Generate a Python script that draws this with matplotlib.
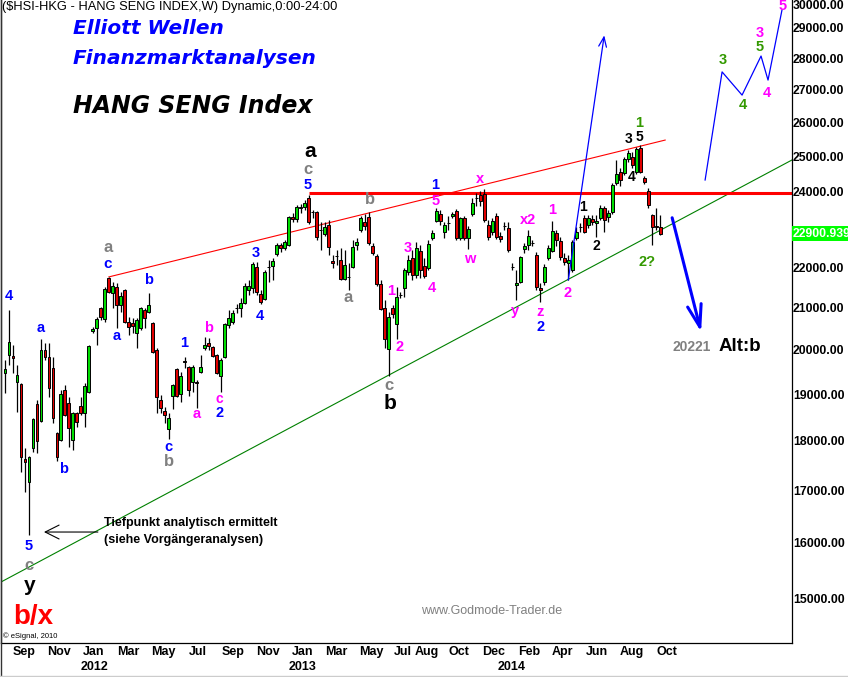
import numpy as np
import pandas as pd
import matplotlib
matplotlib.use("Agg")
import matplotlib.pyplot as plt
import matplotlib.dates as mdates
import matplotlib.ticker as mticker
import matplotlib.transforms as mtransforms
from matplotlib.lines import Line2D

# ---------------------------------------------------------------------------
# Weekly Hang Seng Index candles (one bar per week, Friday dates)
# ---------------------------------------------------------------------------
first_week = "2011-07-29"

opens = [
    19500, 19910, 19880, 19300, 19260, 17650, 17200, 17880, 18820, 18450,
    20030, 19870, 19610, 18200, 18050, 19120, 18840, 18050, 18620, 18770,
    18620, 19080, 20470, 20540, 21020, 20760, 21760, 21390, 21540, 21100,
    21460, 20680, 20660, 20420, 20540, 20970, 20920, 20660, 20030, 18900,
    18660, 18280, 18990, 19590, 19030, 19770, 19640, 19300, 19290, 19520,
    20070, 20190, 20100, 19910, 19430, 19860, 20610, 20690, 21010, 21020,
    21140, 21460, 21510, 22040, 21360, 21240, 22030, 22070, 22380, 22610,
    22530, 22610, 23350, 23300, 23590, 23620, 23870, 23480, 23490, 23000,
    22900, 23140, 22200, 22320, 22220, 21740, 21780, 22040, 22610, 23000,
    23220, 23350, 22580, 22320, 21610, 21020, 20050, 21020, 20640, 21330,
    21510, 21910, 22270, 21840, 22450, 22070, 22020, 22790, 23240, 23430,
    22950, 23180, 23380, 23510, 22790, 23320, 22790, 23430, 23860, 23950,
    23980, 23140, 22950, 23380, 22840, 23100, 23060, 22030, 21590, 21660,
    22510, 22610, 22650, 22350, 21510, 21660, 22270, 22450, 22920, 22710,
    22270, 22140, 21960, 22790, 23070, 23320, 23140, 23300, 23190, 23320,
    23600, 23350, 23490, 24290, 24600, 24570, 24970, 25030, 24600, 25290,
    24430, 24060, 23410, 23110, 23080,
]
highs = [
    19800, 20970, 20140, 19680, 19280, 17880, 17720, 18510, 18900, 20280,
    20190, 20190, 19870, 18220, 19120, 19230, 18970, 18640, 18640, 18970,
    19280, 20140, 20570, 20800, 21050, 21540, 21790, 21660, 21640, 21410,
    21480, 20800, 20780, 20780, 21050, 21020, 21390, 20680, 20070, 19010,
    18750, 18620, 19260, 19610, 19520, 19870, 19660, 19680, 19340, 19910,
    20330, 20310, 20110, 19930, 19840, 20660, 20970, 20970, 21120, 21270,
    21640, 21710, 22170, 22170, 21460, 21970, 22220, 22270, 22660, 22660,
    22740, 23380, 23460, 23680, 23710, 23810, 23944, 23540, 23510, 23220,
    23220, 23270, 22350, 22480, 22530, 22480, 22150, 22740, 22790, 23380,
    23430, 23490, 22660, 22380, 21710, 21220, 20920, 21100, 21540, 21410,
    22020, 22350, 22480, 22690, 22610, 22270, 22740, 23000, 23600, 23540,
    23220, 23380, 23490, 23570, 23350, 23380, 23110, 23870, 24010, 24060,
    24110, 23270, 23320, 23460, 22950, 23220, 23220, 22150, 21960, 22330,
    22660, 23000, 22740, 22430, 21640, 22120, 22610, 23240, 23000, 22820,
    22400, 22350, 22740, 23080, 23190, 23410, 23410, 23410, 23410, 23680,
    23650, 23540, 24290, 24940, 24710, 25030, 25230, 25170, 25320, 25362,
    24480, 24150, 23420, 23600, 23410,
]
lows = [
    19060, 19680, 19500, 18640, 17400, 17000, 16170, 17800, 17780, 18430,
    19790, 18970, 18410, 17620, 18030, 18560, 17900, 17840, 18320, 18580,
    18320, 19060, 20420, 20140, 20730, 20680, 21400, 21020, 20540, 20920,
    20660, 20380, 20420, 20070, 20490, 20540, 20900, 19960, 18620, 18620,
    18410, 18070, 18710, 18970, 18860, 19610, 18990, 19080, 18730, 19500,
    20030, 20030, 19870, 19480, 19080, 19840, 20540, 20640, 20900, 20800,
    21120, 21340, 21390, 21340, 21120, 21210, 21660, 21710, 22320, 22430,
    22480, 22580, 23220, 23220, 23460, 23540, 23160, 23320, 22740, 22480,
    22840, 22350, 22020, 22090, 21710, 21710, 21460, 22020, 22480, 22950,
    23000, 22610, 22350, 21560, 20970, 20070, 19426, 20780, 20280, 21270,
    21290, 21840, 21710, 21760, 21760, 21760, 21960, 22740, 23220, 23140,
    22790, 23000, 23320, 22740, 22740, 22740, 22510, 23380, 23650, 23650,
    23220, 22740, 22870, 22770, 22690, 23000, 22430, 21960, 21220, 21640,
    22400, 22480, 22580, 21460, 21170, 21590, 22220, 22430, 22580, 22220,
    22090, 21710, 21910, 22740, 22950, 22920, 23060, 23140, 22820, 23270,
    22950, 23220, 23430, 24230, 24200, 24510, 24880, 24710, 24540, 24570,
    24260, 23600, 22610, 23000, 22870,
]
closes = [
    19590, 20210, 19850, 19460, 17700, 17600, 17700, 18490, 18030, 20030,
    19870, 19170, 18510, 17700, 19030, 18580, 18300, 18620, 18430, 18620,
    19210, 20120, 20520, 20760, 20800, 21490, 21410, 21560, 21100, 21320,
    20680, 20570, 20590, 20730, 21020, 20780, 21100, 19980, 18970, 18730,
    18580, 18510, 19230, 18990, 19430, 19750, 19120, 19640, 19270, 19640,
    20140, 20120, 19890, 19500, 19800, 20640, 20780, 20900, 21030, 21140,
    21560, 21560, 22120, 21410, 21170, 21910, 22050, 22200, 22610, 22530,
    22690, 23350, 23300, 23620, 23610, 23730, 23220, 23490, 22820, 23010,
    23080, 22560, 22150, 22330, 21740, 22090, 21800, 22560, 22690, 23320,
    23110, 22660, 22400, 21610, 21000, 20280, 20800, 20880, 21290, 21350,
    21960, 22220, 21840, 22530, 21960, 21810, 22640, 22920, 23510, 23240,
    23140, 23200, 23430, 22790, 23320, 22790, 23030, 23730, 23880, 23790,
    23270, 22820, 23240, 22820, 22770, 23120, 22480, 22050, 21640, 22300,
    22580, 22850, 22670, 21540, 21460, 22040, 22530, 22980, 22740, 22300,
    22170, 22220, 22690, 22950, 23090, 22950, 23320, 23220, 23240, 23600,
    23270, 23460, 24230, 24540, 24370, 24970, 25140, 24800, 25260, 24600,
    24310, 23680, 23080, 23080, 22900.939,
]
last_price = 22900.939

# Axis text
price_levels = [30000, 29000, 28000, 27000, 26000, 25000, 24000, 22000,
                21000, 20000, 19000, 18000, 17000, 16000, 15000]
month_ticks = ["2011-09-01", "2011-11-01", "2012-01-01", "2012-03-01",
               "2012-05-01", "2012-07-01", "2012-09-01", "2012-11-01",
               "2013-01-01", "2013-03-01", "2013-05-01", "2013-07-01",
               "2013-08-01", "2013-10-01", "2013-12-01", "2014-02-01",
               "2014-04-01", "2014-06-01", "2014-08-01", "2014-10-01"]
month_names = ["Sep", "Nov", "Jan", "Mar", "May", "Jul", "Sep", "Nov",
               "Jan", "Mar", "May", "Jul", "Aug", "Oct", "Dec", "Feb",
               "Apr", "Jun", "Aug", "Oct"]
year_ticks = ["2012-01-01", "2013-01-01", "2014-01-01"]
year_names = ["2012", "2013", "2014"]

# Trend lines (week number, price)
support_weeks = [0, 198]
support_prices = [15320, 24940]
resistance_end = (166.25, 25520)
neckline_price = 24000

# Projected paths
up_target = (151, 28800)
down_path_weeks = [168, 175.25]
down_path_prices = [23330, 20450]
zigzag_weeks = [176.25, 180.5, 185.5, 190.25, 192, 195.5]
zigzag_prices = [24370, 27610, 26880, 28120, 27350, 29660]
target_price = 20221

BLUE, PINK, GRAY, GREEN, BLACK, RED = ("#0000ff", "#ff00ff", "#808080",
                                       "#339900", "#000000", "#ff0000")

# Elliott wave counts: (week, price, text, colour, size)
wave_labels = [
    (2, 21315, "4", BLUE, 10.5),
    (10, 20540, "a", BLUE, 10.5),
    (15.75, 17455, "b", BLUE, 10.5),
    (7, 15970, "5", BLUE, 10.5),
    (7, 15623, "c", GRAY, 12),
    (7.25, 15250, "y", BLACK, 15),
    (8, 14713, "b/x", RED, 20),
    (26.75, 22532, "a", GRAY, 12),
    (26.75, 22119, "c", BLUE, 11),
    (37, 21712, "b", BLUE, 10.5),
    (29, 20353, "a", BLUE, 10.5),
    (42, 17904, "c", BLUE, 10.5),
    (42, 17597, "b", GRAY, 12),
    (45.75, 20189, "1", BLUE, 10.5),
    (52, 20541, "b", PINK, 10.5),
    (49, 18600, "a", PINK, 10.5),
    (54.75, 18930, "c", PINK, 10),
    (54.75, 18620, "2", BLUE, 10.5),
    (63.75, 22403, "3", BLUE, 10.5),
    (64.75, 20828, "4", BLUE, 10.5),
    (76.75, 24230, "5", BLUE, 10.5),
    (76.75, 24680, "c", GRAY, 12),
    (77.5, 25199, "a", BLACK, 15),
    (92.25, 23841, "b", GRAY, 12),
    (87, 21266, "a", GRAY, 12),
    (97.75, 21438, "1", PINK, 10.5),
    (99.75, 20096, "2", PINK, 10.5),
    (97, 19211, "c", GRAY, 12),
    (97.5, 18816, "b", BLACK, 15),
    (101.75, 22532, "3", PINK, 10.5),
    (107.75, 21513, "4", PINK, 10.5),
    (108.75, 24230, "1", BLUE, 10.5),
    (108.75, 23787, "5", PINK, 10.5),
    (120, 24398, "x", PINK, 10.5),
    (117.25, 22248, "w", PINK, 10.5),
    (132, 23271, "x2", PINK, 10.5),
    (138, 23541, "1", PINK, 10.5),
    (128.75, 20949, "y", PINK, 10.5),
    (135, 20925, "z", PINK, 10.5),
    (135, 20565, "2", BLUE, 10.5),
    (141.75, 21389, "2", PINK, 10.5),
    (145.75, 23623, "1", BLACK, 10),
    (149, 22584, "2", BLACK, 10),
    (157, 25551, "3", BLACK, 10),
    (159.75, 25610, "5", BLACK, 10),
    (157.75, 24455, "4", BLACK, 10),
    (159.75, 26028, "1", GREEN, 10.5),
    (161.75, 22170, "2?", GREEN, 10.5),
    (180.75, 27992, "3", GREEN, 10.5),
    (185.75, 26575, "4", GREEN, 10.5),
    (190, 28878, "3", PINK, 10.5),
    (190, 28415, "5", GREEN, 10.5),
    (191.75, 26946, "4", PINK, 10.5),
    (195.75, 29793, "5", PINK, 10.5),
]

# ---------------------------------------------------------------------------
W, H = 848, 677
fig = plt.figure(figsize=(W / 100, H / 100), dpi=100, facecolor="white")
ax = fig.add_axes([1 / W, 34 / H, 791 / W, 643 / H])
ax.set_facecolor("white")

t0 = mdates.date2num(pd.Timestamp(first_week))


def wx(k):
    """Date number of (fractional) week k, week 1 being the first bar."""
    return t0 + 7.0 * (k - 1)


dates = pd.date_range(first_week, periods=len(closes), freq="7D")
x = mdates.date2num(dates)
o, h, l, c = (np.asarray(v, dtype=float) for v in (opens, highs, lows, closes))

ax.set_yscale("log")
ax.set_xlim(wx(0), wx(198))
ax.set_ylim(14278, 30000)
ax.xaxis.set_major_locator(mticker.NullLocator())
ax.xaxis.set_minor_locator(mticker.NullLocator())
ax.yaxis.set_major_locator(mticker.NullLocator())
ax.yaxis.set_minor_locator(mticker.NullLocator())
ax.spines["top"].set_visible(False)
for side in ("left", "bottom", "right"):
    ax.spines[side].set_color("black")
    ax.spines[side].set_linewidth(0.9)

# candles
lo = np.minimum(o, c)
hi = np.maximum(o, c)
rising = c >= o
ax.vlines(x, l, h, colors="black", linewidth=0.9, zorder=3)
ax.bar(x[rising], hi[rising] - lo[rising], bottom=lo[rising], width=5.0,
       color="#00dd00", edgecolor="black", linewidth=0.7, zorder=4)
ax.bar(x[~rising], hi[~rising] - lo[~rising], bottom=lo[~rising], width=5.0,
       color="#e00000", edgecolor="black", linewidth=0.7, zorder=4)

# trend lines
ax.plot([wx(k) for k in support_weeks], support_prices, color="#008000",
        lw=0.8, zorder=2)
ax.plot([x[26], wx(resistance_end[0])], [h[26], resistance_end[1]],
        color=RED, lw=0.8, zorder=2)
ax.plot([x[76], wx(198)], [neckline_price, neckline_price], color=RED,
        lw=2.2, zorder=2, solid_capstyle="butt")

# projections
ax.annotate("", xy=(wx(up_target[0]), up_target[1]), xytext=(x[141], l[141]),
            arrowprops=dict(arrowstyle="->,head_length=0.5,head_width=0.2",
                            color=BLUE, lw=0.9, shrinkA=0, shrinkB=0,
                            mutation_scale=14), zorder=5)
ax.annotate("", xy=(wx(down_path_weeks[1]), down_path_prices[1]),
            xytext=(wx(down_path_weeks[0]), down_path_prices[0]),
            arrowprops=dict(arrowstyle="->,head_length=0.8,head_width=0.25",
                            color=BLUE, lw=2.2, shrinkA=0, shrinkB=0,
                            mutation_scale=20), zorder=5)
ax.plot([wx(k) for k in zigzag_weeks], zigzag_prices, color=BLUE, lw=0.9,
        zorder=5)

# wave counts
for k, p, s, col, size in wave_labels:
    ax.text(wx(k), p, s, color=col, fontsize=size, fontweight="bold",
            family="Liberation Sans", ha="center", va="center", zorder=6)

ax.text(wx(173), 20096, f"{target_price}", color=GRAY, fontsize=10,
        fontweight="bold", family="Liberation Sans", ha="center", va="center")
ax.text(wx(185), 20096, "Alt:b", color=BLACK, fontsize=13.5,
        fontweight="bold", family="Liberation Sans", ha="center", va="center")

# note about the 2011 low
ax.annotate("", xy=(wx(10.75), 16230), xytext=(wx(24.25), 16230),
            arrowprops=dict(arrowstyle="->,head_length=0.5,head_width=0.25",
                            color="black", lw=0.8, shrinkA=0, shrinkB=0,
                            mutation_scale=20))
fig.text(104 / W, 1 - 523 / H, "Tiefpunkt analytisch ermittelt",
         fontsize=9, fontweight="bold", family="Liberation Sans", va="center")
fig.text(104 / W, 1 - 540 / H, "(siehe Vorgängeranalysen)",
         fontsize=9, fontweight="bold", family="Liberation Sans", va="center")

# headings
fig.text(2 / W, 1 - 7 / H, "($HSI-HKG - HANG SENG INDEX,W) Dynamic,0:00-24:00",
         fontsize=9.3, family="Liberation Sans", va="center")
title_font = dict(family="DejaVu Sans", fontweight="bold", style="italic",
                  va="center")
fig.text(73 / W, 1 - 28 / H, "Elliott Wellen", color=BLUE, fontsize=14.5,
         **title_font)
fig.text(73 / W, 1 - 59 / H, "Finanzmarktanalysen", color=BLUE,
         fontsize=14.5, **title_font)
fig.text(73 / W, 1 - 106 / H, "HANG SENG Index", color=BLACK, fontsize=17,
         **title_font)
fig.text(492 / W, 1 - 611 / H, "www.Godmode-Trader.de", color="#808080",
         fontsize=9, family="Liberation Sans", ha="center", va="center")
fig.text(3 / W, 1 - 636 / H, "\u00a9 eSignal, 2010", color="black",
         fontsize=5.5, family="Liberation Sans", va="center")

# price scale
ytrans = mtransforms.blended_transform_factory(fig.transFigure, ax.transData)
for p in price_levels:
    ax.text(793 / W, p, f"{p:.2f}", transform=ytrans, fontsize=8.8,
            fontweight="bold", family="Liberation Sans", ha="left",
            va="top" if p == price_levels[0] else "center", clip_on=False)
ax.text(793 / W, last_price, f"{last_price:.3f}", transform=ytrans,
        fontsize=8.8, fontweight="bold", family="Liberation Sans",
        color="white", ha="left", va="center", clip_on=False,
        bbox=dict(boxstyle="square,pad=0.12", fc="#00ff00", ec="none"))

# time scale (month names that would collide are nudged apart)
xtrans = mtransforms.blended_transform_factory(ax.transData, fig.transFigure)
nudge = {11: -3.5, 12: 2.5}
for i, (d, name) in enumerate(zip(month_ticks, month_names)):
    ax.annotate(name, xy=(mdates.date2num(pd.Timestamp(d)), 1 - 652 / H),
                xycoords=xtrans, xytext=(nudge.get(i, 0.0), 0),
                textcoords="offset pixels", fontsize=9, fontweight="bold",
                family="Liberation Sans", ha="center", va="center",
                annotation_clip=False)
for d, name in zip(year_ticks, year_names):
    ax.text(mdates.date2num(pd.Timestamp(d)), 1 - 667 / H, name,
            transform=xtrans, fontsize=9, fontweight="bold",
            family="Liberation Sans", ha="center", va="center", clip_on=False)

# window frame
fig.add_artist(Line2D([0.6 / W, 0.6 / W], [0, 1], color="#333333", lw=1.0))
fig.add_artist(Line2D([0, 1], [1.5 / H, 1.5 / H], color="#cccccc", lw=1.0))

fig.savefig("out.png", dpi=100, facecolor="white")
